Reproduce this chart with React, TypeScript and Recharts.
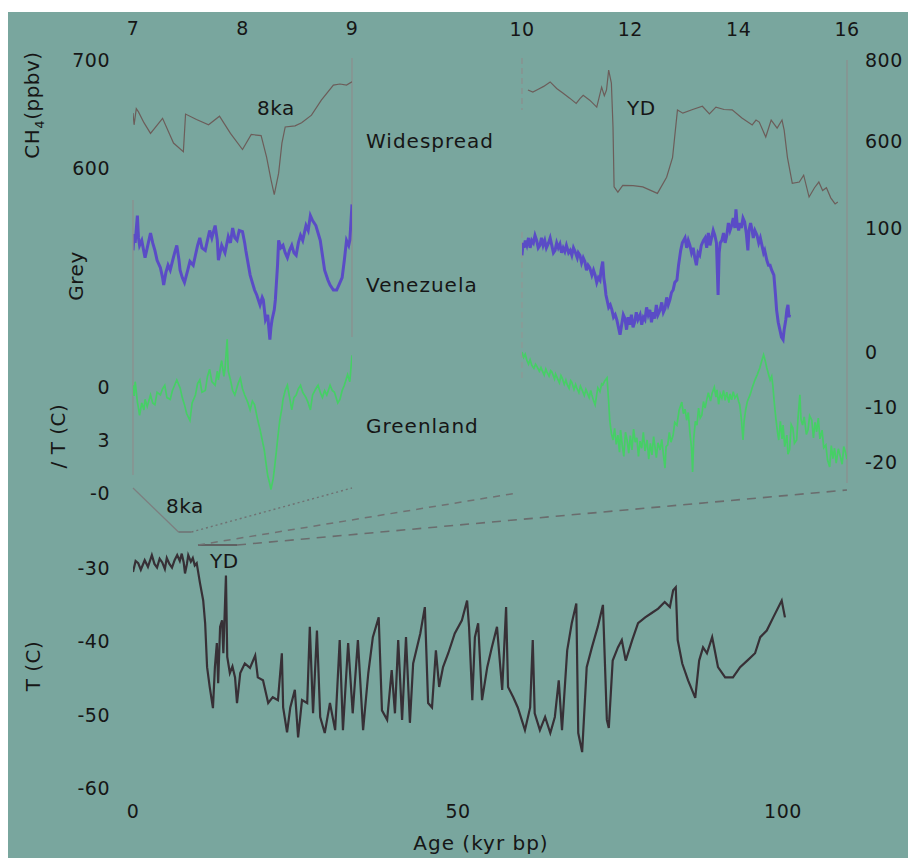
import React from 'react';
import { LineChart, Line, XAxis, YAxis, ReferenceLine } from 'recharts';

const W = 908;
const H = 858;
const FONT = '"DejaVu Sans", Verdana, sans-serif';
const INK = '#161616';
const BG = '#79a69e';
const EDGE = '#8b8f8e';

type Pt = [number, number];

// CH4 (ppbv), 7-9 kyr window
const ch4Left: Pt[] = [
  [7.0, 651], [7.01, 640], [7.03, 655], [7.05, 652], [7.1, 642], [7.16, 632], [7.27, 646], [7.37, 623],
  [7.46, 615], [7.48, 650], [7.58, 645], [7.69, 640], [7.79, 648], [7.89, 632], [8.0, 617], [8.08, 631],
  [8.17, 630], [8.22, 610], [8.26, 589], [8.29, 575], [8.33, 595], [8.36, 623], [8.39, 638], [8.48, 639],
  [8.54, 642], [8.63, 649], [8.72, 663], [8.83, 677], [8.89, 678], [8.95, 677], [9.0, 680],
];

// CH4 (ppbv), 10-16 kyr window
const ch4Right: Pt[] = [
  [10.11, 726], [10.2, 721], [10.3, 728], [10.4, 735], [10.52, 746], [10.64, 730], [10.76, 718], [10.88, 706],
  [11.0, 693], [11.07, 705], [11.13, 713], [11.25, 701], [11.38, 684], [11.47, 733], [11.52, 712], [11.56, 726],
  [11.6, 775], [11.65, 743], [11.68, 635], [11.7, 487], [11.77, 474], [11.86, 491], [12.05, 490], [12.23, 487],
  [12.5, 471], [12.67, 511], [12.78, 560], [12.87, 677], [12.97, 669], [13.15, 678], [13.33, 686], [13.46, 667],
  [13.58, 684], [13.73, 678], [13.88, 677], [14.06, 657], [14.25, 640], [14.32, 652], [14.38, 647], [14.5, 610],
  [14.6, 652], [14.71, 632], [14.8, 652], [14.84, 627], [14.9, 560], [14.99, 496], [15.12, 499], [15.2, 516],
  [15.3, 462], [15.4, 485], [15.48, 499], [15.55, 478], [15.62, 485], [15.7, 460], [15.78, 445], [15.83, 450],
];

// Cariaco grey scale, 7-9 kyr
const greyLeft: Pt[] = [
  [7.0, 82], [7.01, 95], [7.02, 88], [7.04, 110], [7.05, 92], [7.06, 86], [7.08, 90], [7.11, 76], [7.13, 84],
  [7.16, 96], [7.18, 88], [7.2, 82], [7.22, 74], [7.25, 68], [7.27, 60], [7.28, 54], [7.3, 64], [7.32, 70],
  [7.34, 66], [7.36, 73], [7.38, 80], [7.4, 86], [7.42, 74], [7.43, 66], [7.45, 60], [7.47, 56], [7.5, 66],
  [7.52, 73], [7.55, 70], [7.57, 78], [7.59, 86], [7.61, 92], [7.63, 84], [7.66, 82], [7.68, 90], [7.7, 98],
  [7.72, 92], [7.75, 102], [7.77, 90], [7.78, 74], [7.8, 82], [7.81, 86], [7.84, 80], [7.87, 93], [7.89, 88],
  [7.91, 100], [7.93, 92], [7.95, 90], [7.97, 98], [8.0, 97], [8.02, 88], [8.03, 82], [8.05, 72], [8.07, 62],
  [8.09, 56], [8.11, 50], [8.13, 46], [8.16, 38], [8.18, 44], [8.19, 42], [8.21, 26], [8.23, 30], [8.25, 10],
  [8.26, 20], [8.27, 26], [8.29, 34], [8.3, 42], [8.32, 70], [8.33, 90], [8.35, 84], [8.37, 86], [8.39, 80],
  [8.41, 76], [8.43, 82], [8.45, 86], [8.47, 80], [8.49, 78], [8.51, 88], [8.53, 94], [8.55, 90], [8.58, 102],
  [8.6, 98], [8.62, 110], [8.64, 106], [8.67, 102], [8.69, 96], [8.71, 90], [8.73, 78], [8.75, 66], [8.78, 58],
  [8.8, 54], [8.83, 50], [8.86, 50], [8.88, 54], [8.91, 60], [8.93, 74], [8.95, 90], [8.97, 86], [8.98, 90],
  [9.0, 119],
];

// Cariaco grey scale, 10-16 kyr
const greyRight: Pt[] = [
  [10.0, 78], [10.02, 88], [10.04, 84], [10.06, 90], [10.09, 86], [10.12, 92], [10.15, 84], [10.18, 90],
  [10.21, 88], [10.24, 94], [10.27, 90], [10.3, 84], [10.33, 86], [10.36, 92], [10.39, 86], [10.42, 90],
  [10.45, 84], [10.49, 88], [10.52, 92], [10.55, 86], [10.58, 80], [10.61, 82], [10.64, 88], [10.67, 84],
  [10.7, 87], [10.73, 80], [10.76, 84], [10.79, 81], [10.82, 86], [10.86, 80], [10.89, 82], [10.92, 78],
  [10.95, 84], [10.98, 81], [11.02, 76], [11.04, 80], [11.07, 78], [11.1, 72], [11.13, 76], [11.16, 73],
  [11.19, 66], [11.22, 70], [11.25, 68], [11.29, 62], [11.32, 66], [11.35, 62], [11.38, 56], [11.41, 60],
  [11.44, 58], [11.46, 66], [11.49, 73], [11.51, 60], [11.53, 54], [11.55, 46], [11.57, 42], [11.6, 36],
  [11.63, 38], [11.66, 34], [11.69, 28], [11.72, 30], [11.75, 26], [11.78, 20], [11.81, 14], [11.84, 22],
  [11.87, 30], [11.9, 27], [11.93, 18], [11.96, 28], [11.99, 22], [12.02, 30], [12.05, 20], [12.08, 24],
  [12.11, 32], [12.14, 26], [12.18, 30], [12.21, 22], [12.24, 28], [12.27, 26], [12.3, 36], [12.33, 30],
  [12.36, 34], [12.39, 24], [12.42, 32], [12.45, 27], [12.48, 38], [12.51, 30], [12.55, 34], [12.58, 40],
  [12.61, 32], [12.64, 35], [12.67, 44], [12.7, 38], [12.73, 42], [12.76, 48], [12.79, 50], [12.82, 56],
  [12.86, 58], [12.89, 70], [12.93, 82], [12.96, 88], [13.01, 92], [13.04, 84], [13.07, 90], [13.1, 86],
  [13.13, 80], [13.16, 84], [13.19, 76], [13.22, 70], [13.25, 80], [13.28, 78], [13.31, 86], [13.35, 90],
  [13.38, 92], [13.41, 84], [13.44, 96], [13.47, 86], [13.5, 92], [13.53, 98], [13.56, 94], [13.59, 88],
  [13.62, 46], [13.64, 80], [13.66, 88], [13.69, 90], [13.72, 96], [13.75, 88], [13.78, 94], [13.81, 104],
  [13.84, 98], [13.87, 102], [13.9, 108], [13.93, 100], [13.95, 115], [13.97, 104], [14.0, 98], [14.02, 104],
  [14.05, 100], [14.08, 108], [14.11, 105], [14.14, 96], [14.17, 82], [14.19, 98], [14.22, 104], [14.24, 100],
  [14.27, 92], [14.3, 98], [14.34, 94], [14.37, 88], [14.4, 92], [14.43, 86], [14.46, 80], [14.48, 82],
  [14.52, 74], [14.55, 70], [14.58, 70], [14.61, 66], [14.65, 62], [14.68, 46], [14.7, 34], [14.73, 24],
  [14.76, 18], [14.79, 12], [14.82, 10], [14.84, 18], [14.87, 26], [14.89, 34], [14.91, 38], [14.93, 28],
  [14.94, 30],
];

// Greenland temperature anomaly, 7-9 kyr
const grlLeft: Pt[] = [
  [7.0, 0.1], [7.01, -0.5], [7.02, 0.3], [7.04, -0.85], [7.05, -1.2], [7.06, -1.6], [7.08, -0.9], [7.1, -1.3],
  [7.11, -0.7], [7.13, -1.1], [7.16, -0.45], [7.18, -0.9], [7.2, -1.0], [7.22, -0.3], [7.25, -0.45], [7.27, -0.1],
  [7.29, 0.1], [7.31, -0.6], [7.34, -0.7], [7.36, -0.2], [7.38, 0.1], [7.4, 0.4], [7.43, -0.05], [7.45, -0.6],
  [7.47, -1.0], [7.49, -1.5], [7.52, -1.9], [7.54, -0.9], [7.57, -0.45], [7.59, 0.2], [7.61, 0.4], [7.63, -0.3],
  [7.66, -0.2], [7.68, 0.6], [7.7, 1.0], [7.72, 0.3], [7.75, 0.1], [7.77, 0.9], [7.78, 0.4], [7.8, 1.2],
  [7.81, 1.5], [7.83, 0.6], [7.84, 1.0], [7.86, 2.7], [7.87, 0.9], [7.89, 0.4], [7.91, -0.2], [7.93, -0.45],
  [7.96, 0.2], [7.98, 0.5], [8.0, -0.1], [8.02, -0.45], [8.05, -0.9], [8.07, -1.3], [8.09, -0.8], [8.11, -1.0],
  [8.14, -1.9], [8.16, -2.4], [8.18, -3.0], [8.2, -3.6], [8.21, -4.1], [8.23, -5.0], [8.25, -5.5], [8.26, -5.8],
  [8.28, -5.2], [8.29, -4.7], [8.31, -3.6], [8.32, -3.0], [8.34, -1.9], [8.36, -1.2], [8.37, -0.7], [8.39, -0.2],
  [8.41, 0.1], [8.43, -0.6], [8.45, -1.3], [8.47, -0.6], [8.49, -0.45], [8.51, -0.1], [8.53, 0.1], [8.55, -0.3],
  [8.58, -0.6], [8.6, -0.9], [8.62, -1.3], [8.64, -0.45], [8.67, -0.1], [8.69, 0.1], [8.71, -0.3], [8.73, -0.6],
  [8.75, -0.2], [8.77, -0.45], [8.8, 0.1], [8.82, -0.2], [8.84, -0.3], [8.87, -0.9], [8.89, -0.7], [8.91, -0.2],
  [8.93, 0.1], [8.96, 0.7], [8.98, 0.3], [9.0, 1.8],
];

// Greenland temperature (C), 10-16 kyr
const grlRight: Pt[] = [
  [10.0, 0], [10.03, -1.0], [10.06, -0.4], [10.09, -1.5], [10.12, -2.2], [10.15, -1.4], [10.18, -2.4],
  [10.22, -3.0], [10.25, -2.2], [10.28, -2.7], [10.32, -3.5], [10.35, -2.8], [10.37, -3.3], [10.41, -4.2],
  [10.44, -3.1], [10.46, -3.6], [10.5, -4.4], [10.53, -3.4], [10.55, -3.6], [10.6, -4.9], [10.62, -4.0],
  [10.65, -4.7], [10.69, -5.6], [10.72, -4.3], [10.74, -4.7], [10.78, -5.9], [10.81, -5.1], [10.83, -5.8],
  [10.87, -6.6], [10.9, -5.2], [10.92, -5.5], [10.96, -6.8], [10.99, -5.9], [11.01, -6.5], [11.05, -7.4],
  [11.08, -6.2], [11.11, -6.9], [11.15, -7.9], [11.18, -6.8], [11.2, -7.3], [11.24, -8.3], [11.27, -7.0],
  [11.29, -7.8], [11.32, -8.8], [11.35, -9.6], [11.38, -7.7], [11.4, -6.5], [11.44, -7.2], [11.47, -5.8],
  [11.49, -6.0], [11.53, -5.2], [11.57, -4.7], [11.6, -9.0], [11.62, -12.4], [11.65, -14.8], [11.68, -16.0],
  [11.71, -13.9], [11.74, -16.8], [11.77, -15.1], [11.8, -18.2], [11.82, -14.2], [11.85, -16.9], [11.88, -19.0],
  [11.91, -14.6], [11.94, -16.0], [11.97, -18.4], [12.0, -15.2], [12.03, -17.8], [12.06, -14.0], [12.09, -16.4],
  [12.12, -15.6], [12.15, -19.0], [12.18, -16.2], [12.21, -17.5], [12.24, -14.6], [12.27, -18.0], [12.31, -16.0],
  [12.34, -19.5], [12.37, -16.6], [12.4, -18.7], [12.43, -15.4], [12.45, -16.9], [12.48, -19.2], [12.51, -16.5],
  [12.55, -17.8], [12.58, -15.9], [12.61, -18.6], [12.64, -21.1], [12.66, -17.2], [12.69, -16.9], [12.72, -14.6],
  [12.75, -16.4], [12.79, -15.1], [12.82, -12.8], [12.86, -13.3], [12.9, -10.6], [12.95, -9.1], [12.98, -11.2],
  [13.01, -10.4], [13.04, -12.4], [13.07, -11.0], [13.1, -14.7], [13.13, -17.5], [13.15, -21.8], [13.17, -15.8],
  [13.2, -12.6], [13.23, -13.3], [13.26, -10.2], [13.29, -12.0], [13.32, -11.5], [13.35, -9.0], [13.38, -10.2],
  [13.41, -8.7], [13.44, -7.4], [13.48, -8.9], [13.51, -7.5], [13.55, -6.4], [13.58, -8.2], [13.6, -6.9],
  [13.63, -9.5], [13.66, -7.6], [13.69, -8.4], [13.72, -7.0], [13.75, -8.8], [13.78, -7.3], [13.82, -9.2],
  [13.84, -7.6], [13.87, -8.7], [13.9, -7.2], [13.93, -8.4], [13.97, -7.8], [14.0, -9.0], [14.02, -9.6],
  [14.05, -12.2], [14.08, -16.0], [14.1, -12.6], [14.13, -10.5], [14.16, -9.0], [14.21, -7.8], [14.25, -6.5],
  [14.3, -5.1], [14.34, -4.2], [14.39, -2.9], [14.42, -1.8], [14.46, -0.5], [14.49, -1.6], [14.52, -2.9],
  [14.55, -4.0], [14.58, -5.1], [14.61, -4.4], [14.63, -6.0], [14.66, -9.5], [14.69, -12.4], [14.72, -14.8],
  [14.74, -16.0], [14.77, -12.6], [14.8, -15.8], [14.82, -13.3], [14.85, -17.2], [14.89, -15.1], [14.91, -18.6],
  [14.94, -17.8], [14.97, -13.2], [15.0, -13.8], [15.03, -16.6], [15.07, -16.0], [15.1, -11.4], [15.13, -7.8],
  [15.15, -12.2], [15.18, -13.3], [15.21, -11.8], [15.25, -15.0], [15.28, -14.2], [15.31, -11.6], [15.35, -12.4],
  [15.38, -15.6], [15.41, -12.8], [15.44, -14.5], [15.47, -12.0], [15.5, -15.8], [15.54, -14.2], [15.57, -17.4],
  [15.61, -16.9], [15.64, -19.6], [15.68, -20.9], [15.71, -17.0], [15.74, -19.4], [15.77, -17.5], [15.8, -20.2],
  [15.84, -17.6], [15.87, -18.7], [15.91, -20.4], [15.94, -17.2], [15.96, -17.8], [16.0, -19.5],
];

// Greenland ice-core temperature (C), 0-100 kyr
const ngrip: Pt[] = [
  [0, -30.5], [0.4, -29.0], [0.8, -29.3], [1.2, -30.2], [1.8, -28.9], [2.3, -29.8], [2.9, -28.2], [3.3, -29.4],
  [3.7, -29.9], [4.1, -28.7], [4.5, -29.2], [4.9, -30.1], [5.2, -28.6], [5.6, -29.4], [6.0, -29.9], [6.4, -28.9],
  [6.8, -28.2], [7.2, -29.0], [7.5, -28.0], [7.8, -29.2], [8.0, -30.7], [8.3, -29.4], [8.5, -28.2], [8.9, -29.1],
  [9.2, -28.6], [9.5, -29.6], [9.8, -29.3], [10.3, -32.0], [10.8, -34.4], [11.1, -37.5], [11.4, -43.5],
  [11.8, -46.2], [12.3, -49.1], [12.6, -43.5], [12.9, -40.2], [13.1, -45.7], [13.4, -38.0], [13.7, -37.1],
  [13.9, -41.6], [14.3, -31.0], [14.5, -42.1], [14.9, -44.3], [15.3, -43.4], [15.7, -44.9], [16.0, -48.4],
  [16.5, -44.3], [17.2, -43.0], [18.0, -43.6], [18.8, -41.9], [19.2, -44.9], [20.0, -45.3], [20.8, -48.4],
  [21.5, -47.6], [22.3, -48.0], [22.9, -41.6], [23.1, -49.0], [23.7, -52.4], [24.2, -49.0], [24.9, -46.6],
  [25.4, -53.1], [26.0, -48.0], [26.8, -48.4], [27.2, -38.0], [27.7, -49.8], [28.3, -38.5], [28.8, -50.3],
  [29.5, -52.5], [30.3, -48.4], [31.1, -52.1], [31.8, -39.8], [32.3, -52.1], [33.1, -40.2], [33.8, -49.8],
  [34.6, -39.8], [35.4, -52.1], [36.2, -44.3], [36.9, -39.4], [37.8, -36.7], [38.3, -49.4], [39.1, -50.7],
  [39.8, -43.9], [40.3, -49.8], [40.8, -39.8], [41.4, -50.7], [42.0, -39.4], [42.6, -51.1], [43.1, -43.0],
  [44.2, -38.9], [44.9, -35.3], [45.4, -48.4], [46.0, -49.0], [46.6, -41.2], [47.1, -46.2], [47.7, -43.5],
  [48.5, -41.6], [49.5, -38.9], [50.6, -37.1], [51.4, -34.4], [51.7, -38.0], [52.2, -48.0], [52.6, -39.4],
  [53.1, -37.5], [53.7, -48.0], [54.5, -43.5], [55.2, -40.8], [56.0, -38.0], [56.8, -46.6], [57.4, -35.3],
  [57.7, -46.2], [58.5, -47.6], [59.2, -49.0], [60.3, -52.1], [61.1, -49.0], [61.5, -39.8], [61.8, -49.8],
  [62.6, -52.1], [63.4, -50.3], [64.2, -52.5], [64.9, -50.3], [65.5, -45.3], [66.0, -52.1], [66.8, -41.2],
  [67.5, -37.5], [68.2, -34.8], [68.5, -52.5], [69.1, -55.1], [69.8, -43.5], [70.6, -40.8], [71.5, -38.0],
  [72.3, -35.0], [72.9, -50.7], [73.2, -51.8], [73.8, -42.6], [74.6, -40.8], [75.2, -39.8], [75.8, -42.6],
  [76.8, -39.8], [77.7, -37.5], [78.8, -36.7], [79.8, -36.1], [80.8, -35.5], [81.8, -34.6], [82.6, -35.3],
  [83.1, -33.0], [83.5, -32.6], [83.8, -39.8], [84.5, -43.0], [85.4, -45.3], [86.5, -47.7], [87.1, -42.6],
  [87.7, -40.8], [88.3, -41.6], [89.1, -39.4], [89.5, -41.2], [90.0, -43.5], [91.1, -44.9], [92.3, -44.9],
  [93.4, -43.5], [94.5, -42.6], [95.7, -41.6], [96.5, -39.4], [97.5, -38.5], [98.5, -36.7], [99.8, -34.4],
  [100.3, -36.7],
];

const topLeftTicks = [7, 8, 9];
const topRightTicks = [10, 12, 14, 16];
const ch4LeftTicks = [600, 700];
const ch4RightTicks = [600, 800];
const greyRightTicks = [100];
const grlLeftTicks = [0, -3, -6];
const grlLeftTickLabels = ['0', '3', '-0'];
const grlRightTicks = [0, -10, -20];
const bottomXTicks = [0, 50, 100];
const bottomYTicks = [-60, -50, -40, -30];
const leftWindow: [number, number] = [7, 9];
const rightWindow: [number, number] = [10, 16];

type Box = { x0: number; x1: number; y0: number; y1: number };
type Edge = { x: number; from: number; to: number; dash?: string; color?: string };

// pixel y -> value for a box/domain
const inv = (b: Box, d: [number, number], py: number) =>
  d[1] - ((py - b.y0) / (b.y1 - b.y0)) * (d[1] - d[0]);
const invX = (b: Box, d: [number, number], px: number) =>
  d[0] + ((px - b.x0) / (b.x1 - b.x0)) * (d[1] - d[0]);

const tickStyle = { fill: INK, fontSize: 19, fontFamily: FONT, letterSpacing: 0.5 };

type PanelProps = {
  box: Box;
  pts: Pt[];
  xDomain: [number, number];
  yDomain: [number, number];
  color: string;
  lineWidth: number;
  topTicks?: number[];
  leftTicks?: number[];
  leftLabels?: string[];
  rightTicks?: number[];
  edges?: Edge[];
};

const Panel = ({ box, pts, xDomain, yDomain, color, lineWidth, topTicks, leftTicks, leftLabels, rightTicks, edges = [] }: PanelProps) => {
  const lw = leftTicks ? 60 : 0;
  const rw = rightTicks ? 60 : 0;
  const th = topTicks ? 30 : 0;
  const rows = pts.map(([age, v]) => ({ age, v }));
  const fmt = (v: number) => {
    if (!leftTicks || !leftLabels) return String(v);
    const i = leftTicks.indexOf(v);
    return i >= 0 ? leftLabels[i] : String(v);
  };
  return (
    <div style={{ position: 'absolute', left: 0, top: 0 }}>
      <LineChart
        width={W}
        height={H}
        data={rows}
        margin={{ left: box.x0 - lw, right: W - box.x1 - rw, top: box.y0 - th, bottom: H - box.y1 }}
      >
        <XAxis
          dataKey="age"
          type="number"
          domain={xDomain}
          orientation="top"
          hide={!topTicks}
          ticks={topTicks}
          interval={0}
          height={30}
          axisLine={false}
          tickLine={false}
          tickSize={0}
          tickMargin={20}
          tick={tickStyle}
          allowDataOverflow
        />
        <YAxis
          yAxisId="l"
          type="number"
          domain={yDomain}
          hide={!leftTicks}
          ticks={leftTicks}
          interval={0}
          width={60}
          axisLine={false}
          tickLine={false}
          tickSize={0}
          tickMargin={23}
          tick={tickStyle}
          tickFormatter={fmt}
          allowDataOverflow
        />
        <YAxis
          yAxisId="r"
          orientation="right"
          type="number"
          domain={yDomain}
          hide={!rightTicks}
          ticks={rightTicks}
          interval={0}
          width={60}
          axisLine={false}
          tickLine={false}
          tickSize={0}
          tickMargin={18}
          tick={{ ...tickStyle, textAnchor: 'start' }}
          allowDataOverflow
        />
        {edges.map((e, i) => (
          <ReferenceLine
            key={i}
            yAxisId="l"
            ifOverflow="visible"
            segment={[
              { x: e.x, y: inv(box, yDomain, e.from) },
              { x: e.x, y: inv(box, yDomain, e.to) },
            ]}
            stroke={e.color ?? EDGE}
            strokeWidth={1.3}
            strokeDasharray={e.dash}
          />
        ))}
        <Line
          yAxisId="l"
          type="linear"
          dataKey="v"
          stroke={color}
          strokeWidth={lineWidth}
          dot={false}
          isAnimationActive={false}
        />
      </LineChart>
    </div>
  );
};

const CH4_COLOR = '#6c5d5a';
const GREY_COLOR = '#5a4cc6';
const GRL_COLOR = '#46cf66';
const NGRIP_COLOR = '#373036';

const bottomBox: Box = { x0: 133, x1: 848, y0: 539, y1: 788 };
const bottomX: [number, number] = [0, 110];
const bottomY: [number, number] = [-60, -26];

const BottomPanel = () => {
  const rows = ngrip.map(([age, t]) => ({ age, t }));
  const ax = (px: number) => invX(bottomBox, bottomX, px);
  const ty = (py: number) => inv(bottomBox, bottomY, py);
  const bar8ka = ty(532);
  const barYD = ty(545);
  const links = [
    { a: { x: ax(133), y: ty(488) }, b: { x: leftWindow[0], y: bar8ka }, dash: undefined, w: 1.3, c: '#7d7f80' },
    { a: { x: leftWindow[0], y: bar8ka }, b: { x: leftWindow[1], y: bar8ka }, dash: undefined, w: 1.5, c: '#6f7172' },
    { a: { x: leftWindow[1], y: bar8ka }, b: { x: ax(352), y: ty(488) }, dash: '2 3', w: 1.4, c: '#6f7172' },
    { a: { x: rightWindow[0], y: barYD }, b: { x: rightWindow[1], y: barYD }, dash: undefined, w: 2.2, c: '#5f6162' },
    { a: { x: rightWindow[0], y: barYD }, b: { x: ax(517), y: ty(493) }, dash: '7 6', w: 1.5, c: '#6f7172' },
    { a: { x: rightWindow[1], y: barYD }, b: { x: ax(847), y: ty(490) }, dash: '9 7', w: 1.6, c: '#6a6c6d' },
  ];
  return (
    <div style={{ position: 'absolute', left: 0, top: 0 }}>
      <LineChart
        width={W}
        height={H}
        data={rows}
        margin={{ left: bottomBox.x0 - 60, right: W - bottomBox.x1, top: bottomBox.y0, bottom: H - bottomBox.y1 - 30 }}
      >
        <XAxis
          dataKey="age"
          type="number"
          domain={bottomX}
          ticks={bottomXTicks}
          interval={0}
          height={30}
          axisLine={false}
          tickLine={false}
          tickSize={0}
          tickMargin={17}
          tick={tickStyle}
          allowDataOverflow
        />
        <YAxis
          type="number"
          domain={bottomY}
          ticks={bottomYTicks}
          interval={0}
          width={60}
          axisLine={false}
          tickLine={false}
          tickSize={0}
          tickMargin={23}
          tick={tickStyle}
          allowDataOverflow
        />
        {links.map((l, i) => (
          <ReferenceLine
            key={i}
            ifOverflow="visible"
            segment={[l.a, l.b]}
            stroke={l.c}
            strokeWidth={l.w}
            strokeDasharray={l.dash}
          />
        ))}
        <Line
          type="linear"
          dataKey="t"
          stroke={NGRIP_COLOR}
          strokeWidth={2.2}
          dot={false}
          isAnimationActive={false}
        />
      </LineChart>
    </div>
  );
};

const LX = { x0: 133, x1: 352 };
const RX = { x0: 522, x1: 847 };

export default function App() {
  const label = { fontFamily: FONT, fontSize: 20, fill: INK, letterSpacing: 1 };
  return (
    <div style={{ position: 'absolute', left: 0, top: 0, width: W, height: H, background: '#ffffff', overflow: 'hidden' }}>
      <div style={{ position: 'absolute', left: 8, top: 12, width: W - 8, height: H - 12, background: BG }} />

      <Panel
        box={{ ...LX, y0: 55, y1: 200 }}
        pts={ch4Left}
        xDomain={leftWindow}
        yDomain={[570, 705]}
        color={CH4_COLOR}
        lineWidth={1.2}
        topTicks={topLeftTicks}
        leftTicks={ch4LeftTicks}
        edges={[{ x: 9, from: 58, to: 337 }]}
      />
      <Panel
        box={{ ...LX, y0: 197, y1: 352 }}
        pts={greyLeft}
        xDomain={leftWindow}
        yDomain={[0, 125]}
        color={GREY_COLOR}
        lineWidth={3}
      />
      <Panel
        box={{ ...LX, y0: 334, y1: 493 }}
        pts={grlLeft}
        xDomain={leftWindow}
        yDomain={[-6, 3]}
        color={GRL_COLOR}
        lineWidth={1.7}
        leftTicks={grlLeftTicks}
        leftLabels={grlLeftTickLabels}
        edges={[{ x: 7, from: 200, to: 475 }]}
      />

      <Panel
        box={{ ...RX, y0: 56, y1: 210 }}
        pts={ch4Right}
        xDomain={rightWindow}
        yDomain={[430, 810]}
        color={CH4_COLOR}
        lineWidth={1.2}
        topTicks={topRightTicks}
        rightTicks={ch4RightTicks}
        edges={[{ x: 10, from: 58, to: 110, dash: '6 4' }]}
      />
      <Panel
        box={{ ...RX, y0: 197, y1: 352 }}
        pts={greyRight}
        xDomain={rightWindow}
        yDomain={[0, 125]}
        color={GREY_COLOR}
        lineWidth={3}
        rightTicks={greyRightTicks}
        edges={[{ x: 10, from: 232, to: 380, dash: '6 4', color: '#8f9795' }]}
      />
      <Panel
        box={{ ...RX, y0: 341, y1: 484 }}
        pts={grlRight}
        xDomain={rightWindow}
        yDomain={[-24, 2]}
        color={GRL_COLOR}
        lineWidth={1.7}
        rightTicks={grlRightTicks}
        edges={[{ x: 16, from: 60, to: 483 }]}
      />

      <BottomPanel />

      <svg width={W} height={H} style={{ position: 'absolute', left: 0, top: 0, pointerEvents: 'none' }}>
        <g {...label}>
          <text x={366} y={148}>Widespread</text>
          <text x={366} y={292}>Venezuela</text>
          <text x={366} y={433}>Greenland</text>
          <text x={257} y={115} letterSpacing={0.5}>8ka</text>
          <text x={627} y={115} letterSpacing={0.5}>YD</text>
          <text x={166} y={513} letterSpacing={0.5}>8ka</text>
          <text x={210} y={568} letterSpacing={0.5}>YD</text>
          <text x={481} y={850} textAnchor="middle">Age (kyr bp)</text>
          <text transform="translate(39,105) rotate(-90)" textAnchor="middle" letterSpacing={0.5}>
            CH<tspan fontSize={13} dy={5}>4</tspan>
            <tspan dy={-5}>(ppbv)</tspan>
          </text>
          <text transform="translate(83,276) rotate(-90)" textAnchor="middle" letterSpacing={0.5}>Grey</text>
          <text transform="translate(65,436) rotate(-90)" textAnchor="middle" letterSpacing={0.5}>/ T (C)</text>
          <text transform="translate(40,666) rotate(-90)" textAnchor="middle" letterSpacing={0.5}>T (C)</text>
        </g>
      </svg>
    </div>
  );
}
